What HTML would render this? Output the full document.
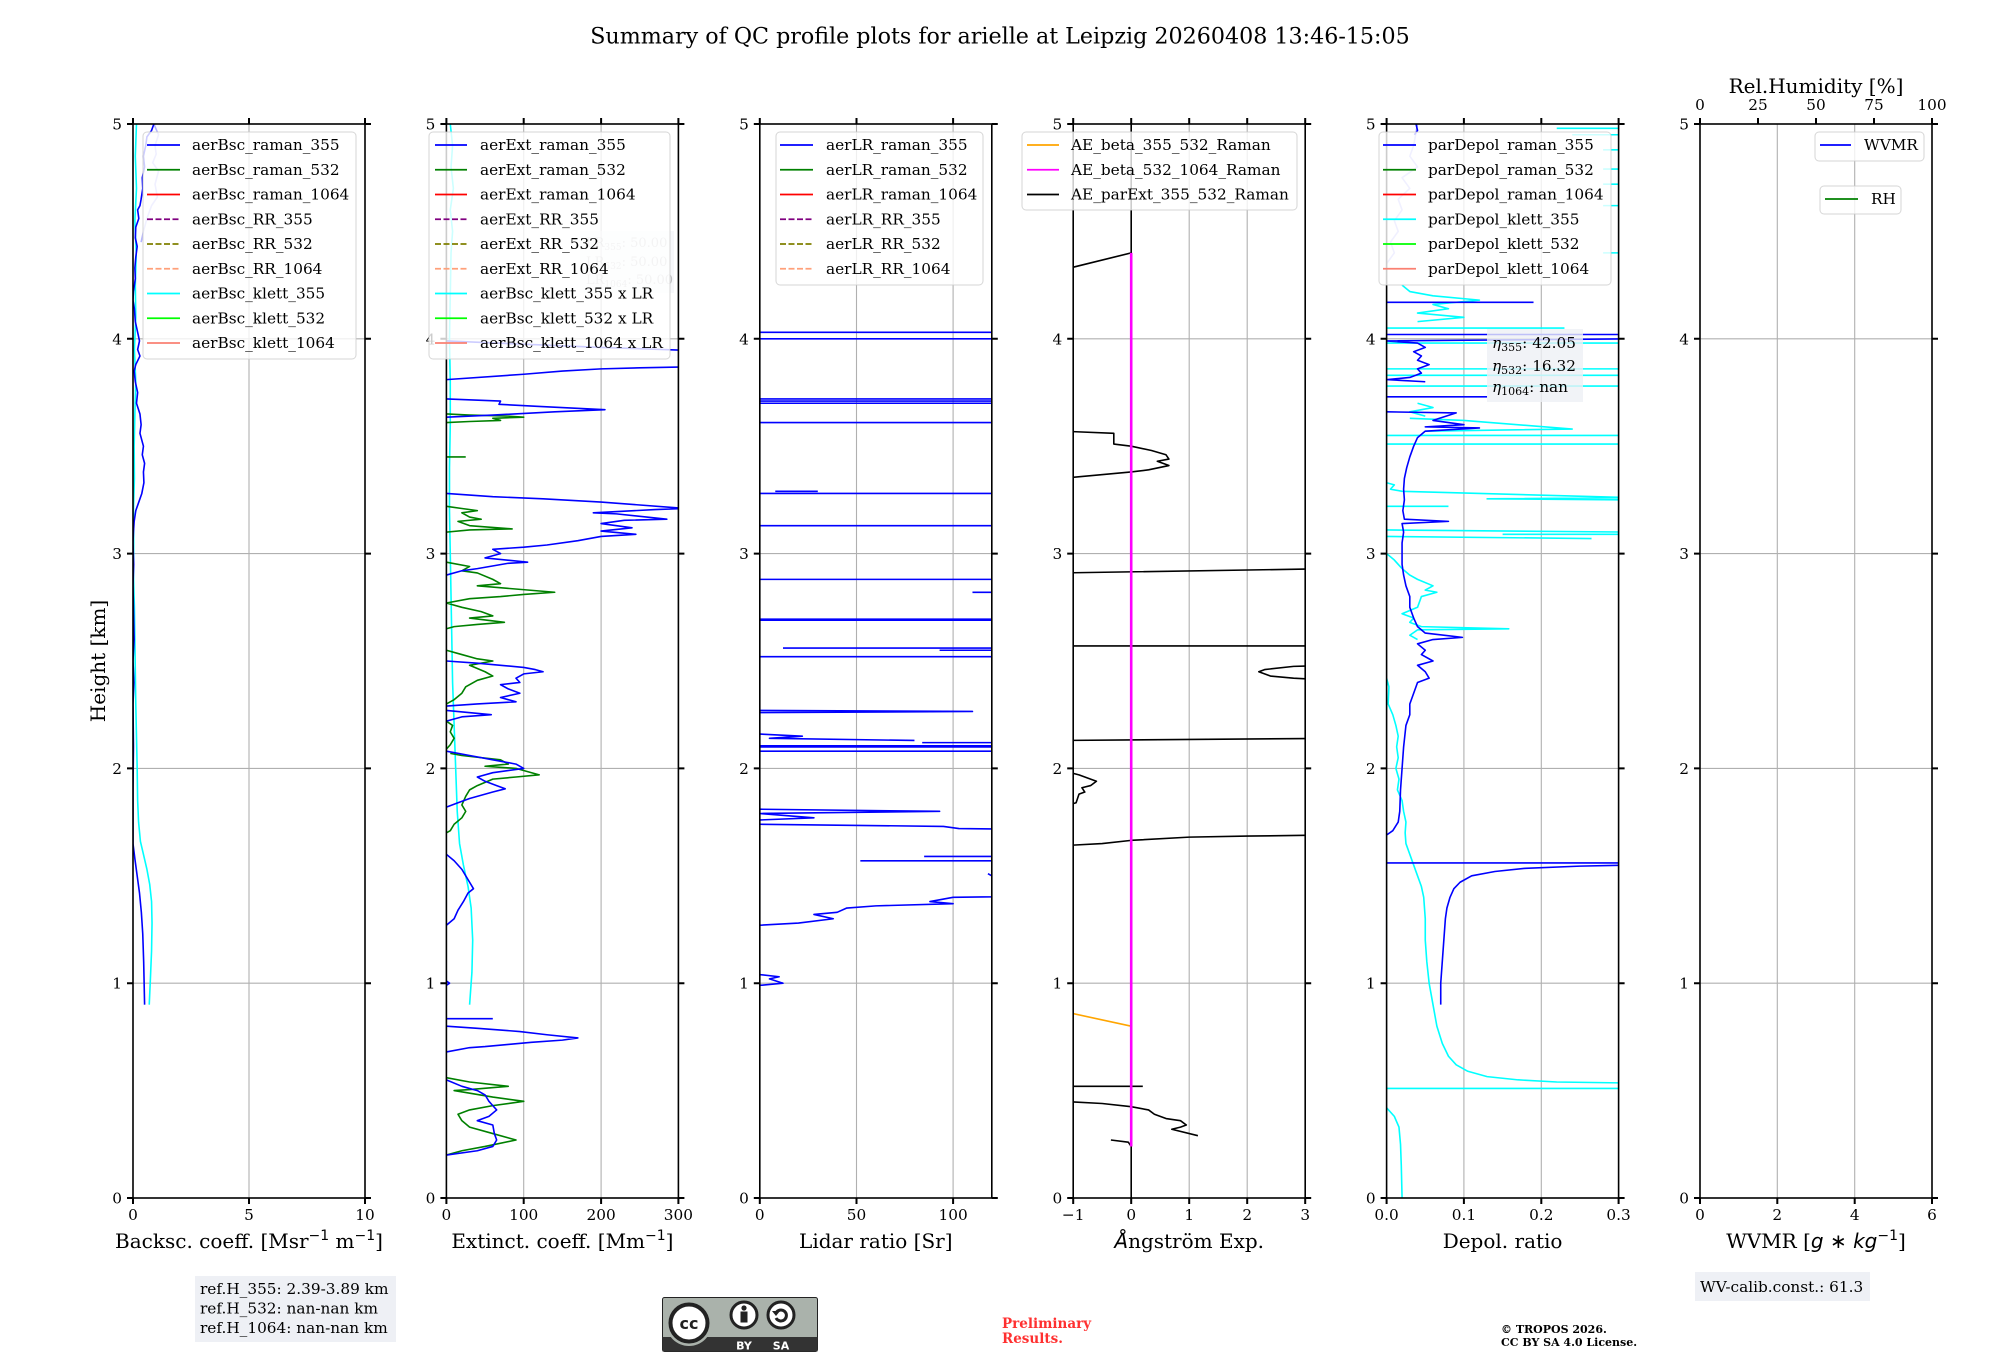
<!DOCTYPE html>
<html><head><meta charset="utf-8">
<style>
html,body{margin:0;padding:0;background:#fff;}
svg{display:block;font-family:"DejaVu Serif","Liberation Serif",serif;}
.d path{vector-effect:non-scaling-stroke;fill:none;stroke-linejoin:round;stroke-width:1.6;}
.tk{fill:#000;font-size:15.3px;}
.lg{font-size:15.3px;fill:#000;}
.al{font-size:20px;fill:#000;}
</style></head>
<body>
<svg width="2000" height="1360" viewBox="0 0 2000 1360" xmlns="http://www.w3.org/2000/svg">
<rect width="2000" height="1360" fill="#fff"/>
<defs>
<clipPath id="c1"><rect x="133" y="124" width="232" height="1074"/></clipPath>
<clipPath id="c2"><rect x="446.4" y="124" width="232" height="1074"/></clipPath>
<clipPath id="c3"><rect x="759.8" y="124" width="232" height="1074"/></clipPath>
<clipPath id="c4"><rect x="1073.2" y="124" width="232" height="1074"/></clipPath>
<clipPath id="c5"><rect x="1386.6" y="124" width="232" height="1074"/></clipPath>
</defs>

<text x="1000" y="43.5" text-anchor="middle" font-size="22.2px">Summary of QC profile plots for arielle at Leipzig 20260408 13:46-15:05</text>

<!-- GRIDS -->
<g stroke="#b0b0b0" stroke-width="1.1" fill="none">
<path d="M133,983.2H365M133,768.4H365M133,553.6H365M133,338.8H365M249,124V1198"/>
<path d="M446.4,983.2H678.4M446.4,768.4H678.4M446.4,553.6H678.4M446.4,338.8H678.4M523.7,124V1198M601.1,124V1198"/>
<path d="M759.8,983.2H991.8M759.8,768.4H991.8M759.8,553.6H991.8M759.8,338.8H991.8M856.5,124V1198M953.1,124V1198"/>
<path d="M1073.2,983.2H1305.2M1073.2,768.4H1305.2M1073.2,553.6H1305.2M1073.2,338.8H1305.2M1131.2,124V1198M1189.2,124V1198M1247.2,124V1198"/>
<path d="M1386.6,983.2H1618.6M1386.6,768.4H1618.6M1386.6,553.6H1618.6M1386.6,338.8H1618.6M1463.9,124V1198M1541.3,124V1198"/>
<path d="M1700,983.2H1932M1700,768.4H1932M1700,553.6H1932M1700,338.8H1932M1777.3,124V1198M1854.7,124V1198"/>
</g>

<!-- PANEL 1 DATA -->
<g clip-path="url(#c1)"><g class="d" transform="translate(133,1198) scale(23.2,-214.8)">
<path stroke="#b4b4ff" d="M0.9,5 L1.1,4.95 L0.95,4.9 L1.0,4.86 L0.85,4.82 L1.1,4.78 L0.95,4.72 L1.05,4.66 L0.8,4.62 L0.6,4.56 L0.45,4.5 L0.35,4.45"/>
<path stroke="#00ffff" d="M0.15,5 L0.1,4.85 L0.15,4.7 L0.08,4.55 L0.14,4.4 L0.1,4.25 L0.12,4.1 L0.06,3.95 L0.12,3.8 L0.08,3.65 L0.05,3.5 L0.06,3.35 L0.02,3.2 L0.03,3.05 L0.02,2.9 L0.06,2.75 L0.08,2.6 L0.1,2.45 L0.12,2.3 L0.15,2.15 L0.18,2.0 L0.2,1.85 L0.24,1.75 L0.32,1.66 L0.45,1.6 L0.6,1.53 L0.72,1.46 L0.8,1.38 L0.82,1.28 L0.8,1.15 L0.75,1.02 L0.7,0.9"/>
<path stroke="#0000ff" d="M0.9,5 L0.8,4.97 L0.6,4.94 L0.55,4.9 L0.45,4.85 L0.5,4.8 L0.4,4.75 L0.42,4.7 L0.35,4.65 L0.3,4.62 L0.2,4.6 L0.25,4.56 L0.12,4.52 L0.1,4.47 L0.18,4.43 L0.12,4.38 L0.08,4.33 L0.1,4.28 L0.02,4.22 L0.0,4.18 L0.06,4.14 L0.1,4.08 L0.2,4.03 L0.28,3.99 L0.2,3.95 L0.3,3.92 L0.12,3.88 L0.05,3.85 L0.1,3.8 L0.2,3.75 L0.15,3.7 L0.3,3.65 L0.35,3.6 L0.3,3.56 L0.45,3.5 L0.4,3.46 L0.5,3.42 L0.45,3.38 L0.47,3.33 L0.38,3.28 L0.25,3.24 L0.12,3.2 L0.05,3.15 L0.02,3.1 L0.0,3.05 L0.03,2.95 L0.0,2.85 L0.05,2.6 L0.0,2.5 L0.04,2.4 L0.0,2.3 L0.02,2.1 L0.0,1.9 L0.0,1.65 L0.08,1.58 L0.18,1.5 L0.28,1.42 L0.36,1.33 L0.42,1.23 L0.46,1.1 L0.5,0.9"/>
</g></g>

<!-- PANEL 2 DATA -->
<g clip-path="url(#c2)"><g class="d" transform="translate(446.4,1198) scale(0.773333,-214.8)">
<path stroke="#00ffff" d="M5,5 L8,4.9 L6,4.8 L9,4.7 L5,4.6 L8,4.5 L6,4.4 L5,4.2 L4,4.0 L5,3.8 L5,3.6 L4,3.4 L4,3.2 L5,3.0 L6,2.8 L7,2.6 L8,2.4 L10,2.2 L12,2.0 L14,1.8 L17,1.65 L22,1.55 L28,1.45 L32,1.35 L34,1.2 L33,1.05 L30,0.9"/>
<path stroke="#008000" d="M0,3.65 L30,3.645 L80,3.64 L100,3.635 L60,3.63 L70,3.62 L30,3.615 L0,3.61
M0,3.45 L25,3.45
M0,3.22 L20,3.21 L40,3.2 L20,3.19 L30,3.17 L45,3.16 L15,3.15 L30,3.13 L85,3.115 L30,3.11 L0,3.1
M0,2.96 L30,2.94 L20,2.92 L40,2.91 L60,2.88 L70,2.86 L40,2.85 L140,2.82 L100,2.81 L70,2.8 L30,2.79 L0,2.77 L20,2.75 L45,2.73 L60,2.71 L30,2.7 L75,2.68 L40,2.67 L10,2.66 L0,2.65
M0,2.55 L20,2.53 L40,2.51 L60,2.5 L30,2.48 L50,2.45 L60,2.43 L40,2.41 L25,2.38 L20,2.35 L10,2.32 L0,2.3
M0,2.22 L8,2.2 L5,2.17 L10,2.14 L5,2.11 L0,2.09
M5,2.07 L20,2.06 L70,2.04 L80,2.02 L50,2.01 L90,2.0 L120,1.97 L90,1.96 L60,1.95 L40,1.92 L30,1.9 L25,1.87 L20,1.83 L25,1.8 L20,1.77 L10,1.74 L5,1.71 L0,1.7
M0,0.56 L30,0.54 L80,0.52 L30,0.505 L10,0.5 L60,0.47 L100,0.45 L60,0.43 L30,0.41 L15,0.39 L20,0.36 L30,0.33 L60,0.3 L90,0.27 L50,0.24 L20,0.22 L0,0.2"/>
<path stroke="#0000ff" d="M0,3.99 L100,3.975 L200,3.96 L320,3.945
M320,3.87 L250,3.865 L200,3.86 L150,3.85 L100,3.835 L0,3.81
M0,3.72 L70,3.71 L68,3.695 L120,3.685 L205,3.67 L140,3.66 L60,3.645 L0,3.635
M0,3.28 L60,3.265 L125,3.255 L200,3.24 L310,3.21 L270,3.205 L190,3.19 L220,3.185 L285,3.16 L230,3.155 L200,3.14 L240,3.12 L200,3.105 L245,3.09 L200,3.08 L170,3.06 L130,3.04 L100,3.03 L60,3.02 L70,3.0 L50,2.98 L105,2.96 L80,2.955 L40,2.93 L20,2.92 L0,2.9
M0,2.5 L40,2.49 L70,2.48 L100,2.47 L115,2.46 L125,2.45 L100,2.44 L90,2.42 L95,2.4 L70,2.39 L80,2.37 L95,2.35 L70,2.33 L90,2.31 L40,2.3 L0,2.29
M0,2.27 L58,2.25 L20,2.24 L0,2.22
M0,2.08 L30,2.06 L60,2.04 L90,2.02 L100,2.0 L60,1.98 L40,1.96 L50,1.94 L65,1.92 L76,1.905 L60,1.89 L30,1.86 L15,1.84 L0,1.82
M0,1.6 L10,1.57 L20,1.53 L25,1.5 L30,1.47 L35,1.44 L28,1.42 L22,1.38 L15,1.34 L10,1.3 L0,1.27
M0,1.01 L4,1.0 L0,0.99
M0,0.835 L60,0.835
M0,0.8 L40,0.79 L95,0.775 L130,0.76 L170,0.745 L150,0.735 L110,0.725 L80,0.715 L50,0.705 L30,0.7 L0,0.68
M0,0.55 L20,0.52 L40,0.5 L50,0.48 L55,0.45 L60,0.43 L65,0.41 L55,0.38 L40,0.36 L60,0.34 L62,0.3 L65,0.27 L60,0.24 L40,0.22 L0,0.2"/>
</g></g>

<!-- PANEL 3 DATA -->
<g clip-path="url(#c3)"><g class="d" transform="translate(759.8,1198) scale(1.933333,-214.8)">
<path stroke="#0000ff" d="M0,4.03 L200,4.03 M0,4.0 L200,4.0 M0,3.72 L200,3.72 M0,3.71 L200,3.71 M0,3.70 L200,3.70 M0,3.61 L200,3.61
M8,3.29 L30,3.29 M0,3.28 L200,3.28 M0,3.13 L200,3.13 M0,2.88 L200,2.88 M110,2.82 L200,2.82
M0,2.695 L200,2.695 M0,2.69 L200,2.69 M12,2.56 L200,2.56 M93,2.55 L200,2.55 M0,2.52 L200,2.52
M0,2.27 L110,2.265 L0,2.26 M0,2.16 L22,2.15 L5,2.14 L80,2.13 M84,2.12 L200,2.12 M0,2.105 L200,2.105 M0,2.10 L200,2.10 M0,2.08 L200,2.08
M0,1.81 L93,1.80 L0,1.79 L28,1.77 L0,1.76 M0,1.74 L95,1.73 L103,1.72 L200,1.71
M85,1.59 L200,1.59 M52,1.57 L200,1.57 M118,1.51 L120,1.5
M200,1.41 L100,1.40 L88,1.38 L100,1.37 L60,1.36 L45,1.35 L40,1.33 L28,1.32 L38,1.30 L20,1.28 L0,1.27
M0,1.04 L10,1.03 L5,1.02 L12,1.0 L0,0.99"/>
</g></g>

<!-- PANEL 4 DATA -->
<g clip-path="url(#c4)"><g class="d" transform="translate(1131.2,1198) scale(58,-214.8)">
<path stroke="#000" d="M0,5 L0,4.40 L-1.2,4.32
M-1.2,3.57 L-0.3,3.56 L-0.3,3.51 L0,3.50 L0.35,3.48 L0.6,3.46 L0.65,3.44 L0.45,3.43 L0.65,3.41 L0.3,3.39 L0,3.38 L-1.2,3.35
M-1.2,2.91 L3.5,2.93
M-1.2,2.57 L3.5,2.57
M3.5,2.48 L2.8,2.475 L2.3,2.46 L2.2,2.45 L2.4,2.43 L2.8,2.42 L3.5,2.41
M-1.2,2.13 L3.5,2.14
M-1.2,1.99 L-0.9,1.97 L-0.7,1.95 L-0.6,1.94 L-0.7,1.92 L-0.85,1.91 L-0.8,1.89 L-0.9,1.88 L-0.95,1.84 L-1.2,1.82
M3.5,1.69 L2,1.685 L1,1.68 L0,1.665 L-0.5,1.65 L-1.2,1.64
M-1.2,0.52 L0.2,0.52
M-1.2,0.45 L-0.5,0.44 L0,0.425 L0.3,0.41 L0.4,0.39 L0.5,0.38 L0.6,0.37 L0.85,0.36 L0.95,0.34 L0.85,0.33 L0.7,0.32 L1.15,0.29
M-0.35,0.27 L-0.05,0.26 L0,0.24 L0,0"/>
<path stroke="#ffa500" d="M-1.2,0.87 L0,0.80"/>
<path stroke="#ff00ff" style="stroke-width:2.6" d="M0,4.40 L0,0.24"/>
</g></g>

<!-- PANEL 5 DATA -->
<g clip-path="url(#c5)"><g class="d" transform="translate(1386.6,1198) scale(773.333,-214.8)">
<path stroke="#b4b4ff" d="M0.04,5 L0.035,4.9 L0.03,4.85 L0.04,4.8 L0.02,4.75 L0.03,4.7 L0.015,4.65 L0.02,4.6 L0.01,4.55 L0.015,4.5 L0.005,4.45 L0.01,4.4 L0.0,4.35"/>
<path stroke="#00ffff" d="M0,2.42 L0.003,2.38 L0.002,2.3 L0.008,2.25 L0.012,2.2 L0.015,2.15 L0.013,2.1 L0.015,2.05 L0.012,2.0 L0.016,1.95 L0.014,1.9 L0.02,1.85 L0.022,1.8 L0.025,1.75 L0.024,1.7 L0.025,1.65 L0.03,1.6 L0.035,1.55 L0.04,1.5 L0.045,1.45 L0.048,1.4 L0.05,1.3 L0.05,1.2 L0.052,1.1 L0.055,1.0 L0.06,0.9 L0.065,0.8 L0.072,0.72 L0.08,0.66 L0.09,0.62 L0.105,0.59 L0.13,0.565 L0.17,0.55 L0.22,0.54 L0.32,0.535
M0,0.51 L0.32,0.51
M0,0.42 L0.01,0.38 L0.016,0.33 L0.018,0.25 L0.019,0.15 L0.02,0.0
M0,3.0 L0.01,2.97 L0.02,2.93 L0.03,2.9 L0.04,2.88 L0.06,2.85 L0.05,2.83 L0.065,2.82 L0.045,2.8 L0.04,2.75 L0.02,2.72 L0.035,2.7 L0.03,2.68 L0.045,2.66 L0.158,2.65 L0.04,2.645 L0.03,2.62 L0.04,2.6
M0,3.33 L0.01,3.32 L0.005,3.3 L0.02,3.29 L0.32,3.26 L0.13,3.255 L0.32,3.25
M0,3.22 L0.08,3.22 M0,3.11 L0.32,3.10 M0,3.08 L0.265,3.07 M0.32,3.09 L0.15,3.09
M0.03,3.63 L0.1,3.62 L0.24,3.58 L0.05,3.57 M0,3.55 L0.32,3.55 M0,3.51 L0.32,3.51
M0.04,3.7 L0.06,3.68 L0.03,3.66 L0.05,3.64
M0,3.86 L0.32,3.86 M0,3.83 L0.32,3.83 M0,3.78 L0.32,3.78 M0,4.05 L0.23,4.05 M0,3.98 L0.32,3.98
M0.02,4.25 L0.03,4.22 L0.06,4.2 L0.12,4.18 L0.06,4.16 L0.08,4.14 L0.04,4.12 L0.1,4.1 L0.04,4.08
M0.22,4.98 L0.32,4.98 M0.24,4.95 L0.32,4.95 M0.28,4.88 L0.32,4.88 M0.28,4.79 L0.32,4.79 M0.28,4.72 L0.32,4.72 M0.28,4.62 L0.32,4.62 M0.28,4.4 L0.32,4.4"/>
<path stroke="#0000ff" d="M0.038,5 L0.04,4.97 L0.036,4.95
M0,4.17 L0.19,4.17 M0,4.02 L0.32,4.02
M0.32,4.0 L0,3.99 L0.04,3.98 L0.05,3.96 L0.035,3.94 L0.045,3.92 L0.04,3.9 L0.055,3.88 L0.04,3.86 L0.045,3.84 L0.03,3.82 L0,3.81 L0.05,3.80
M0,3.73 L0.13,3.73
M0,3.66 L0.09,3.655 L0.06,3.62 L0.1,3.6 L0.05,3.59 L0.12,3.585 L0.05,3.57 L0.04,3.54 L0.035,3.5 L0.03,3.45 L0.026,3.4 L0.023,3.35 L0.022,3.3 L0.023,3.25 L0.021,3.2 L0.023,3.16 L0.08,3.15 L0.02,3.14 L0.022,3.1 L0.02,3.05 L0.02,3.0 L0.02,2.95 L0.022,2.9 L0.025,2.85 L0.03,2.8 L0.03,2.75 L0.035,2.7 L0.04,2.66 L0.05,2.63 L0.098,2.61 L0.06,2.6 L0.04,2.58 L0.05,2.55 L0.045,2.53 L0.06,2.5 L0.04,2.48 L0.05,2.45 L0.055,2.42 L0.04,2.4 L0.035,2.35 L0.03,2.3 L0.03,2.25 L0.025,2.2 L0.022,2.1 L0.02,2.0 L0.018,1.9 L0.017,1.8 L0.015,1.75 L0.008,1.71 L0,1.69
M0,1.56 L0.32,1.56
M0.32,1.55 L0.25,1.545 L0.18,1.535 L0.14,1.52 L0.11,1.5 L0.095,1.47 L0.087,1.44 L0.082,1.4 L0.078,1.35 L0.076,1.3 L0.074,1.2 L0.072,1.1 L0.07,1.0 L0.07,0.9"/>
</g></g>

<!-- SPINES -->
<g fill="none" stroke="#000" stroke-width="1.6">
<rect x="133" y="124" width="232" height="1074"/>
<rect x="446.4" y="124" width="232" height="1074"/>
<rect x="759.8" y="124" width="232" height="1074"/>
<rect x="1073.2" y="124" width="232" height="1074"/>
<rect x="1386.6" y="124" width="232" height="1074"/>
<rect x="1700" y="124" width="232" height="1074"/>
</g>

<!-- TICKS -->
<g fill="none" stroke="#000" stroke-width="2">
<path d="M133,1198v6M249,1198v6M365,1198v6M133,124v-6M249,124v-6M365,124v-6
M133,1198h-6M133,983.2h-6M133,768.4h-6M133,553.6h-6M133,338.8h-6M133,124h-6
M365,1198h6M365,983.2h6M365,768.4h6M365,553.6h6M365,338.8h6M365,124h6"/>
<path d="M446.4,1198v6M523.7,1198v6M601.1,1198v6M678.4,1198v6M446.4,124v-6M523.7,124v-6M601.1,124v-6M678.4,124v-6
M446.4,1198h-6M446.4,983.2h-6M446.4,768.4h-6M446.4,553.6h-6M446.4,338.8h-6M446.4,124h-6
M678.4,1198h6M678.4,983.2h6M678.4,768.4h6M678.4,553.6h6M678.4,338.8h6M678.4,124h6"/>
<path d="M759.8,1198v6M856.5,1198v6M953.1,1198v6M759.8,124v-6M856.5,124v-6M953.1,124v-6
M759.8,1198h-6M759.8,983.2h-6M759.8,768.4h-6M759.8,553.6h-6M759.8,338.8h-6M759.8,124h-6
M991.8,1198h6M991.8,983.2h6M991.8,768.4h6M991.8,553.6h6M991.8,338.8h6M991.8,124h6"/>
<path d="M1073.2,1198v6M1131.2,1198v6M1189.2,1198v6M1247.2,1198v6M1305.2,1198v6M1073.2,124v-6M1131.2,124v-6M1189.2,124v-6M1247.2,124v-6M1305.2,124v-6
M1073.2,1198h-6M1073.2,983.2h-6M1073.2,768.4h-6M1073.2,553.6h-6M1073.2,338.8h-6M1073.2,124h-6
M1305.2,1198h6M1305.2,983.2h6M1305.2,768.4h6M1305.2,553.6h6M1305.2,338.8h6M1305.2,124h6"/>
<path d="M1386.6,1198v6M1463.9,1198v6M1541.3,1198v6M1618.6,1198v6M1386.6,124v-6M1463.9,124v-6M1541.3,124v-6M1618.6,124v-6
M1386.6,1198h-6M1386.6,983.2h-6M1386.6,768.4h-6M1386.6,553.6h-6M1386.6,338.8h-6M1386.6,124h-6
M1618.6,1198h6M1618.6,983.2h6M1618.6,768.4h6M1618.6,553.6h6M1618.6,338.8h6M1618.6,124h6"/>
<path d="M1700,1198v6M1777.3,1198v6M1854.7,1198v6M1932,1198v6M1700,124v-6M1758,124v-6M1816,124v-6M1874,124v-6M1932,124v-6
M1700,1198h-6M1700,983.2h-6M1700,768.4h-6M1700,553.6h-6M1700,338.8h-6M1700,124h-6
M1932,1198h6M1932,983.2h6M1932,768.4h6M1932,553.6h6M1932,338.8h6M1932,124h6"/>
</g>

<!-- Y TICK LABELS -->
<g class="tk" text-anchor="end">
<text x="122" y="1203.5">0</text><text x="122" y="988.7">1</text><text x="122" y="773.9">2</text><text x="122" y="559.1">3</text><text x="122" y="344.3">4</text><text x="122" y="129.5">5</text>
<text x="435.4" y="1203.5">0</text><text x="435.4" y="988.7">1</text><text x="435.4" y="773.9">2</text><text x="435.4" y="559.1">3</text><text x="435.4" y="344.3">4</text><text x="435.4" y="129.5">5</text>
<text x="748.8" y="1203.5">0</text><text x="748.8" y="988.7">1</text><text x="748.8" y="773.9">2</text><text x="748.8" y="559.1">3</text><text x="748.8" y="344.3">4</text><text x="748.8" y="129.5">5</text>
<text x="1062.2" y="1203.5">0</text><text x="1062.2" y="988.7">1</text><text x="1062.2" y="773.9">2</text><text x="1062.2" y="559.1">3</text><text x="1062.2" y="344.3">4</text><text x="1062.2" y="129.5">5</text>
<text x="1375.6" y="1203.5">0</text><text x="1375.6" y="988.7">1</text><text x="1375.6" y="773.9">2</text><text x="1375.6" y="559.1">3</text><text x="1375.6" y="344.3">4</text><text x="1375.6" y="129.5">5</text>
<text x="1689" y="1203.5">0</text><text x="1689" y="988.7">1</text><text x="1689" y="773.9">2</text><text x="1689" y="559.1">3</text><text x="1689" y="344.3">4</text><text x="1689" y="129.5">5</text>
</g>

<!-- X TICK LABELS -->
<g class="tk" text-anchor="middle">
<text x="133" y="1220">0</text><text x="249" y="1220">5</text><text x="365" y="1220">10</text>
<text x="446.4" y="1220">0</text><text x="523.7" y="1220">100</text><text x="601.1" y="1220">200</text><text x="678.4" y="1220">300</text>
<text x="759.8" y="1220">0</text><text x="856.5" y="1220">50</text><text x="953.1" y="1220">100</text>
<text x="1073.2" y="1220">−1</text><text x="1131.2" y="1220">0</text><text x="1189.2" y="1220">1</text><text x="1247.2" y="1220">2</text><text x="1305.2" y="1220">3</text>
<text x="1386.6" y="1220">0.0</text><text x="1463.9" y="1220">0.1</text><text x="1541.3" y="1220">0.2</text><text x="1618.6" y="1220">0.3</text>
<text x="1700" y="1220">0</text><text x="1777.3" y="1220">2</text><text x="1854.7" y="1220">4</text><text x="1932" y="1220">6</text>
<text x="1700" y="110">0</text><text x="1758" y="110">25</text><text x="1816" y="110">50</text><text x="1874" y="110">75</text><text x="1932" y="110">100</text>
</g>

<!-- AXIS LABELS -->
<g class="al" text-anchor="middle">
<text x="249" y="1248">Backsc. coeff. [Msr<tspan font-family="DejaVu Sans" font-size="14" dy="-8">−1</tspan><tspan dy="8"> m</tspan><tspan font-family="DejaVu Sans" font-size="14" dy="-8">−1</tspan><tspan dy="8">]</tspan></text>
<text x="562.4" y="1248">Extinct. coeff. [Mm<tspan font-family="DejaVu Sans" font-size="14" dy="-8">−1</tspan><tspan dy="8">]</tspan></text>
<text x="875.8" y="1248">Lidar ratio [Sr]</text>
<text x="1189.2" y="1248"><tspan font-family="DejaVu Sans" font-style="italic">Å</tspan>ngström Exp.</text>
<text x="1502.6" y="1248">Depol. ratio</text>
<text x="1816" y="1248">WVMR [<tspan font-family="DejaVu Sans" font-style="italic">g</tspan><tspan font-family="DejaVu Sans"> ∗ </tspan><tspan font-family="DejaVu Sans" font-style="italic">kg</tspan><tspan font-family="DejaVu Sans" font-size="14" dy="-8">−1</tspan><tspan dy="8">]</tspan></text>
<text x="1816" y="93">Rel.Humidity [%]</text>
<text transform="translate(105,661) rotate(-90)">Height [km]</text>
</g>

<!-- LR info box panel 2 -->
<rect x="580" y="231" width="94" height="62" fill="#eef0f5" opacity="0.5"/>
<g font-size="13px" fill="#000" fill-opacity="0.22">
<text x="586" y="247">LR<tspan font-size="9" dy="3">355</tspan><tspan dy="-3">: 50.00</tspan></text>
<text x="586" y="266">LR<tspan font-size="9" dy="3">532</tspan><tspan dy="-3">: 50.00</tspan></text>
<text x="586" y="284">LR<tspan font-size="9" dy="3">1064</tspan><tspan dy="-3">: 50.00</tspan></text>
</g>

<!-- LEGEND PANEL 1 -->
<rect x="143" y="132" width="213" height="227" rx="4" fill="#fff" fill-opacity="0.8" stroke="#ccc" stroke-opacity="0.8"/>
<g stroke-width="1.8" fill="none">
<path stroke="#0000ff" d="M147,145H180"/>
<path stroke="#008000" d="M147,169.75H180"/>
<path stroke="#ff0000" d="M147,194.5H180"/>
<path stroke="#800080" stroke-dasharray="6,2.5" d="M147,219.25H180"/>
<path stroke="#808000" stroke-dasharray="6,2.5" d="M147,244H180"/>
<path stroke="#ffa07a" stroke-dasharray="6,2.5" d="M147,268.75H180"/>
<path stroke="#00ffff" d="M147,293.5H180"/>
<path stroke="#00ff00" d="M147,318.25H180"/>
<path stroke="#fa8072" d="M147,343H180"/>
</g>
<g class="lg">
<text x="192" y="150">aerBsc_raman_355</text>
<text x="192" y="174.75">aerBsc_raman_532</text>
<text x="192" y="199.5">aerBsc_raman_1064</text>
<text x="192" y="224.25">aerBsc_RR_355</text>
<text x="192" y="249">aerBsc_RR_532</text>
<text x="192" y="273.75">aerBsc_RR_1064</text>
<text x="192" y="298.5">aerBsc_klett_355</text>
<text x="192" y="323.25">aerBsc_klett_532</text>
<text x="192" y="348">aerBsc_klett_1064</text>
</g>

<!-- LEGEND PANEL 2 -->
<rect x="429" y="132" width="241" height="227" rx="4" fill="#fff" fill-opacity="0.8" stroke="#ccc" stroke-opacity="0.8"/>
<g stroke-width="1.8" fill="none">
<path stroke="#0000ff" d="M435,145H467"/>
<path stroke="#008000" d="M435,169.75H467"/>
<path stroke="#ff0000" d="M435,194.5H467"/>
<path stroke="#800080" stroke-dasharray="6,2.5" d="M435,219.25H467"/>
<path stroke="#808000" stroke-dasharray="6,2.5" d="M435,244H467"/>
<path stroke="#ffa07a" stroke-dasharray="6,2.5" d="M435,268.75H467"/>
<path stroke="#00ffff" d="M435,293.5H467"/>
<path stroke="#00ff00" d="M435,318.25H467"/>
<path stroke="#fa8072" d="M435,343H467"/>
</g>
<g class="lg">
<text x="480" y="150">aerExt_raman_355</text>
<text x="480" y="174.75">aerExt_raman_532</text>
<text x="480" y="199.5">aerExt_raman_1064</text>
<text x="480" y="224.25">aerExt_RR_355</text>
<text x="480" y="249">aerExt_RR_532</text>
<text x="480" y="273.75">aerExt_RR_1064</text>
<text x="480" y="298.5">aerBsc_klett_355 x LR</text>
<text x="480" y="323.25">aerBsc_klett_532 x LR</text>
<text x="480" y="348">aerBsc_klett_1064 x LR</text>
</g>

<!-- LEGEND PANEL 3 -->
<rect x="776" y="132" width="207" height="153" rx="4" fill="#fff" fill-opacity="0.8" stroke="#ccc" stroke-opacity="0.8"/>
<g stroke-width="1.8" fill="none">
<path stroke="#0000ff" d="M780,145H813"/>
<path stroke="#008000" d="M780,169.75H813"/>
<path stroke="#ff0000" d="M780,194.5H813"/>
<path stroke="#800080" stroke-dasharray="6,2.5" d="M780,219.25H813"/>
<path stroke="#808000" stroke-dasharray="6,2.5" d="M780,244H813"/>
<path stroke="#ffa07a" stroke-dasharray="6,2.5" d="M780,268.75H813"/>
</g>
<g class="lg">
<text x="826" y="150">aerLR_raman_355</text>
<text x="826" y="174.75">aerLR_raman_532</text>
<text x="826" y="199.5">aerLR_raman_1064</text>
<text x="826" y="224.25">aerLR_RR_355</text>
<text x="826" y="249">aerLR_RR_532</text>
<text x="826" y="273.75">aerLR_RR_1064</text>
</g>

<!-- LEGEND PANEL 4 -->
<rect x="1022" y="132" width="275" height="78" rx="4" fill="#fff" fill-opacity="0.8" stroke="#ccc" stroke-opacity="0.8"/>
<g stroke-width="1.8" fill="none">
<path stroke="#ffa500" d="M1027,145H1059"/>
<path stroke="#ff00ff" d="M1027,169.75H1059"/>
<path stroke="#000" d="M1027,194.5H1059"/>
</g>
<g class="lg">
<text x="1071" y="150">AE_beta_355_532_Raman</text>
<text x="1071" y="174.75">AE_beta_532_1064_Raman</text>
<text x="1071" y="199.5">AE_parExt_355_532_Raman</text>
</g>

<!-- ETA box panel 5 -->
<rect x="1487" y="329" width="96" height="73" fill="#eef0f5" fill-opacity="0.8"/>
<g class="lg">
<text x="1492" y="348"><tspan font-style="italic">η</tspan><tspan font-size="11" dy="3">355</tspan><tspan dy="-3">: 42.05</tspan></text>
<text x="1492" y="371"><tspan font-style="italic">η</tspan><tspan font-size="11" dy="3">532</tspan><tspan dy="-3">: 16.32</tspan></text>
<text x="1492" y="392"><tspan font-style="italic">η</tspan><tspan font-size="11" dy="3">1064</tspan><tspan dy="-3">: nan</tspan></text>
</g>

<!-- LEGEND PANEL 5 -->
<rect x="1379" y="132" width="232" height="153" rx="4" fill="#fff" fill-opacity="0.8" stroke="#ccc" stroke-opacity="0.8"/>
<g stroke-width="1.8" fill="none">
<path stroke="#0000ff" d="M1383,145H1416"/>
<path stroke="#008000" d="M1383,169.75H1416"/>
<path stroke="#ff0000" d="M1383,194.5H1416"/>
<path stroke="#00ffff" d="M1383,219.25H1416"/>
<path stroke="#00ff00" d="M1383,244H1416"/>
<path stroke="#fa8072" d="M1383,268.75H1416"/>
</g>
<g class="lg">
<text x="1428" y="150">parDepol_raman_355</text>
<text x="1428" y="174.75">parDepol_raman_532</text>
<text x="1428" y="199.5">parDepol_raman_1064</text>
<text x="1428" y="224.25">parDepol_klett_355</text>
<text x="1428" y="249">parDepol_klett_532</text>
<text x="1428" y="273.75">parDepol_klett_1064</text>
</g>

<!-- LEGENDS PANEL 6 -->
<rect x="1815" y="132" width="109" height="29" rx="4" fill="#fff" fill-opacity="0.8" stroke="#ccc" stroke-opacity="0.8"/>
<path stroke="#0000ff" stroke-width="1.8" d="M1820,145H1851"/>
<text class="lg" x="1864" y="150">WVMR</text>
<rect x="1820" y="186" width="81" height="28" rx="4" fill="#fff" fill-opacity="0.8" stroke="#ccc" stroke-opacity="0.8"/>
<path stroke="#008000" stroke-width="1.8" d="M1825,199H1858"/>
<text class="lg" x="1871" y="204">RH</text>

<!-- ref.H box -->
<rect x="195" y="1276" width="201" height="66" fill="#eef0f5"/>
<g class="lg">
<text x="200" y="1294">ref.H_355: 2.39-3.89 km</text>
<text x="200" y="1313.5">ref.H_532: nan-nan km</text>
<text x="200" y="1333">ref.H_1064: nan-nan km</text>
</g>

<!-- WV calib box -->
<rect x="1695" y="1272" width="175" height="29" fill="#eef0f5"/>
<text class="lg" x="1700" y="1292">WV-calib.const.: 61.3</text>

<!-- CC logo -->
<g>
<rect x="662.5" y="1297.5" width="155" height="54" rx="2" fill="#aab2ab" stroke="#222" stroke-width="1"/>
<rect x="662.5" y="1337" width="155" height="14.5" fill="#333"/>
<circle cx="689" cy="1323" r="23" fill="#aab2ab"/>
<circle cx="689" cy="1323" r="18.5" fill="#fff" stroke="#222" stroke-width="4"/>
<text x="689" y="1329" text-anchor="middle" font-family="DejaVu Sans" font-weight="bold" font-size="16" fill="#222">cc</text>
<circle cx="744" cy="1315" r="13" fill="#fff" stroke="#222" stroke-width="3"/>
<circle cx="744" cy="1308" r="2.6" fill="#222"/>
<rect x="740.5" y="1311.5" width="7" height="11" fill="#222"/>
<circle cx="781" cy="1315" r="13" fill="#fff" stroke="#222" stroke-width="3"/>
<path d="M776,1313 A5.5,5.5 0 1 1 776,1318" fill="none" stroke="#222" stroke-width="3"/>
<path d="M772,1311 L776,1316 L780,1311 Z" fill="#222"/>
<text x="744" y="1349.5" text-anchor="middle" font-family="DejaVu Sans" font-weight="bold" font-size="11" fill="#fff">BY</text>
<text x="781" y="1349.5" text-anchor="middle" font-family="DejaVu Sans" font-weight="bold" font-size="11" fill="#fff">SA</text>
</g>

<!-- Preliminary -->
<g font-weight="bold" font-size="13.5px" fill="#ff3030">
<text x="1002" y="1328">Preliminary</text>
<text x="1002" y="1343">Results.</text>
</g>
<g font-weight="bold" font-size="11px" fill="#000">
<text x="1501" y="1333">© TROPOS 2026.</text>
<text x="1501" y="1346">CC BY SA 4.0 License.</text>
</g>
</svg>
</body></html>
